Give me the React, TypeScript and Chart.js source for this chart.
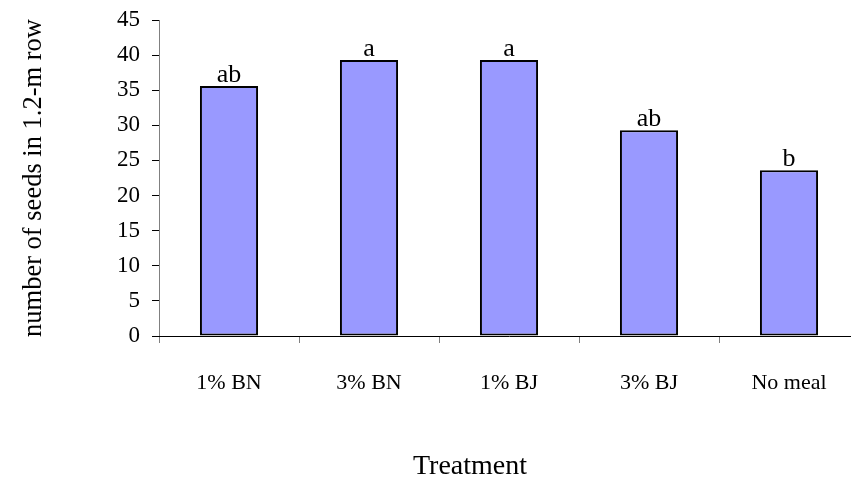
import React, { useEffect, useRef } from "react";
import { Chart, registerables } from "chart.js";

Chart.register(...registerables);

const categories = ["1% BN", "3% BN", "1% BJ", "3% BJ", "No meal"];
const seeds = [35.6, 39.3, 39.3, 29.3, 23.6];
const letters = ["ab", "a", "a", "ab", "b"];
const yTitle = "number of seeds in 1.2-m row";
const xTitle = "Treatment";

const FONT = "'Liberation Serif', 'Times New Roman', serif";

const overlay = {
  id: "overlay",
  afterDatasetsDraw(chart: any) {
    const ctx = chart.ctx;
    const meta = chart.getDatasetMeta(0);
    const ca = chart.chartArea;
    ctx.save();
    ctx.fillStyle = "#000";
    ctx.font = `26px ${FONT}`;
    ctx.textAlign = "center";
    ctx.textBaseline = "alphabetic";
    meta.data.forEach((bar: any, i: number) => {
      ctx.fillText(letters[i], bar.x, bar.y - 4);
    });
    // x title
    ctx.font = `28px ${FONT}`;
    ctx.fillText(xTitle, 470, 474);
    // y title
    ctx.save();
    ctx.translate(41, (ca.top + ca.bottom) / 2);
    ctx.rotate(-Math.PI / 2);
    ctx.font = `26.5px ${FONT}`;
    ctx.fillText(yTitle, 0, 0);
    ctx.restore();
    ctx.restore();
  },
};

export default function App() {
  const ref = useRef<HTMLCanvasElement>(null);
  useEffect(() => {
    if (!ref.current) return;
    const chart = new Chart(ref.current, {
      type: "bar",
      data: {
        labels: categories,
        datasets: [
          {
            data: seeds,
            backgroundColor: "#9999ff",
            borderColor: "#000000",
            borderWidth: 2,
            borderSkipped: false,
            categoryPercentage: 1,
            barPercentage: 0.415,
          },
        ],
      },
      options: {
        responsive: false,
        animation: false,
        layout: { padding: { top: 20, right: 11, left: 0, bottom: 0 } },
        plugins: { legend: { display: false }, tooltip: { enabled: false } },
        scales: {
          y: {
            min: 0,
            max: 45,
            ticks: {
              stepSize: 5,
              color: "#000",
              font: { family: FONT, size: 23 },
              padding: 12,
            },
            grid: {
              drawOnChartArea: false,
              drawTicks: true,
              tickLength: 7,
              color: "#000",
            },
            border: { color: "#808080", width: 1 },
            afterFit: (s: any) => {
              s.width = 159;
              s.paddingTop = 0;
              s.paddingBottom = 0;
            },
          },
          x: {
            ticks: {
              color: "#000",
              font: { family: FONT, size: 22 },
              padding: 27,
            },
            grid: {
              offset: true,
              drawOnChartArea: false,
              drawTicks: true,
              tickLength: 7,
              color: "#808080",
            },
            border: { color: "#000", width: 1 },
            afterFit: (s: any) => {
              s.height = 479 - 336;
              s.paddingLeft = 0;
              s.paddingRight = 0;
            },
          },
        },
      },
      plugins: [overlay],
    });
    return () => chart.destroy();
  }, []);
  return (
    <div
      style={{
        position: "absolute",
        left: 0,
        top: 0,
        width: 851,
        height: 479,
        overflow: "hidden",
        background: "#fff",
      }}
    >
      <canvas ref={ref} width={870} height={479} style={{ display: "block" }} />
    </div>
  );
}
